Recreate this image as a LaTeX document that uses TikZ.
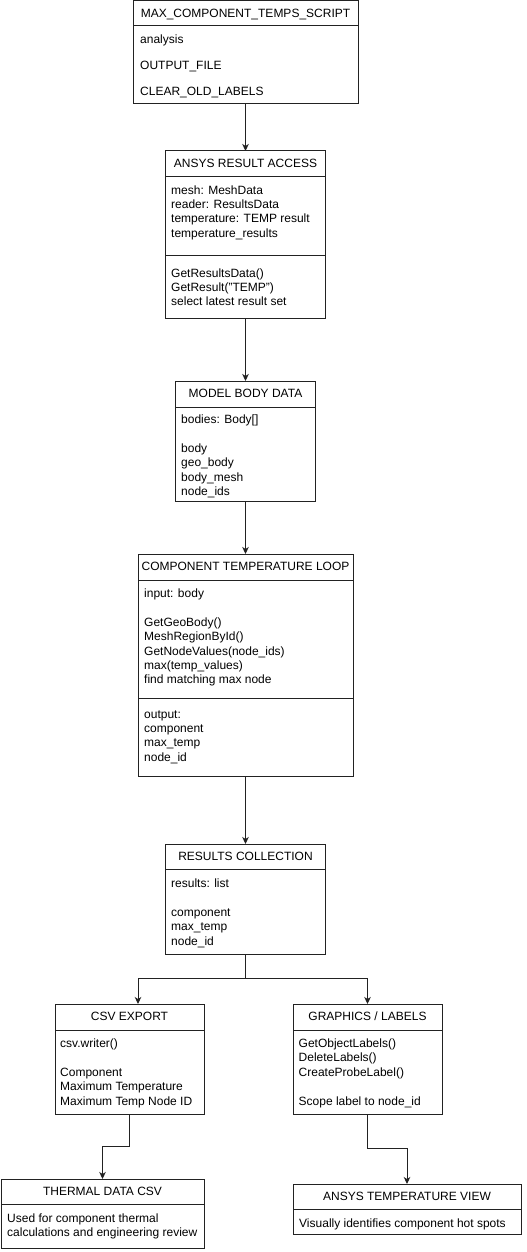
\documentclass[tikz,border=0pt]{standalone}
\usepackage{fontspec}
\setmainfont{Liberation Sans}
\usetikzlibrary{arrows.meta,calc}
\definecolor{stroke}{HTML}{222222}
\tikzset{
  box/.style={draw=stroke, line width=1pt, fill=white, inner sep=0pt, outer sep=0pt, anchor=north west},
  divl/.style={draw=stroke, line width=1pt},
  ttl/.style={anchor=base, inner sep=0pt, font=\fontsize{12}{14.4}\selectfont},
  ln/.style={anchor=base west, inner sep=0pt, font=\fontsize{12}{14.4}\selectfont},
  arr/.style={draw=stroke, line width=1pt, -{Stealth[length=7pt,width=6.5pt,inset=2pt]}},
}
\begin{document}
\begin{tikzpicture}[x=1pt,y=-1pt]
\fill[white] (0,0) rectangle (527,1252);
\useasboundingbox (0,0) rectangle (527,1252);

% Box 1
\node[box, minimum width=225, minimum height=103] (b1) at (133,1) {};
\draw[divl] (b1.west |- 0,26) -- (b1.east |- 0,26);
\node[ttl] (b1t) at (245.5,18) {MAX\_COMPONENT\_TEMPS\_SCRIPT};
\node[ln] (b1a) at (140,44) {analysis};
\node[ln] (b1b) at (140,70) {OUTPUT\_FILE};
\node[ln] (b1c) at (140,95.5) {CLEAR\_OLD\_LABELS};

% Box 2
\node[box, minimum width=160, minimum height=167] (b2) at (165.5,151) {};
\draw[divl] (b2.west |- 0,177) -- (b2.east |- 0,177);
\draw[divl] (b2.west |- 0,255) -- (b2.east |- 0,255);
\node[ttl] (b2t) at (245.5,167.5) {ANSYS RESULT ACCESS};
\node[ln] (b2a) at (171,194) {mesh: MeshData};
\node[ln] (b2b) at (171,208.4) {reader: ResultsData};
\node[ln] (b2c) at (171,222.8) {temperature: TEMP result};
\node[ln] (b2d) at (171,237.2) {temperature\_results};
\node[ln] (b2e) at (171,277) {GetResultsData()};
\node[ln] (b2f) at (171,291.4) {GetResult("TEMP")};
\node[ln] (b2g) at (171,305.8) {select latest result set};

% Box 3
\node[box, minimum width=140, minimum height=120] (b3) at (175.5,381) {};
\draw[divl] (b3.west |- 0,407) -- (b3.east |- 0,407);
\node[ttl] (b3t) at (245.5,397.5) {MODEL BODY DATA};
\node[ln] (b3a) at (181,423.5) {bodies: Body[]};
\node[ln] (b3b) at (181,452.3) {body};
\node[ln] (b3c) at (181,466.7) {geo\_body};
\node[ln] (b3d) at (181,481.1) {body\_mesh};
\node[ln] (b3e) at (181,495.5) {node\_ids};

% Box 4
\node[box, minimum width=215, minimum height=222] (b4) at (138,554) {};
\draw[divl] (b4.west |- 0,580) -- (b4.east |- 0,580);
\draw[divl] (b4.west |- 0,698) -- (b4.east |- 0,698);
\node[ttl] (b4t) at (245.5,570.5) {COMPONENT TEMPERATURE LOOP};
\node[ln] (b4a) at (144,597.5) {input: body};
\node[ln] (b4b) at (144,626.3) {GetGeoBody()};
\node[ln] (b4c) at (144,640.7) {MeshRegionById()};
\node[ln] (b4d) at (144,655.1) {GetNodeValues(node\_ids)};
\node[ln] (b4e) at (144,669.5) {max(temp\_values)};
\node[ln] (b4f) at (144,683.9) {find matching max node};
\node[ln] (b4g) at (144,718) {output:};
\node[ln] (b4h) at (144,732.4) {component};
\node[ln] (b4i) at (144,746.8) {max\_temp};
\node[ln] (b4j) at (144,761.2) {node\_id};

% Results collection
\node[box, minimum width=160, minimum height=110] (rc) at (165.5,844) {};
\draw[divl] (rc.west |- 0,869) -- (rc.east |- 0,869);
\node[ttl] (rct) at (245.5,860.5) {RESULTS COLLECTION};
\node[ln] (rca) at (171,887.5) {results: list};
\node[ln] (rcb) at (171,916.3) {component};
\node[ln] (rcc) at (171,930.7) {max\_temp};
\node[ln] (rcd) at (171,945.1) {node\_id};

% CSV export
\node[box, minimum width=149, minimum height=110] (csv) at (55,1004) {};
\draw[divl] (csv.west |- 0,1030) -- (csv.east |- 0,1030);
\node[ttl] (csvt) at (129.5,1020.5) {CSV EXPORT};
\node[ln] (csva) at (60,1047.5) {csv.writer()};
\node[ln] (csvb) at (60,1076.3) {Component};
\node[ln] (csvc) at (60,1090.7) {Maximum Temperature};
\node[ln] (csvd) at (60,1105.1) {Maximum Temp Node ID};

% Graphics / labels
\node[box, minimum width=149, minimum height=110] (gfx) at (293,1004) {};
\draw[divl] (gfx.west |- 0,1030) -- (gfx.east |- 0,1030);
\node[ttl] (gfxt) at (367.5,1020.5) {GRAPHICS / LABELS};
\node[ln] (gfxa) at (298.5,1047.5) {GetObjectLabels()};
\node[ln] (gfxb) at (298.5,1061.9) {DeleteLabels()};
\node[ln] (gfxc) at (298.5,1076.3) {CreateProbeLabel()};
\node[ln] (gfxd) at (298.5,1105.1) {Scope label to node\_id};

% Thermal data CSV
\node[box, minimum width=203, minimum height=69] (th) at (1,1179) {};
\draw[divl] (th.west |- 0,1204) -- (th.east |- 0,1204);
\node[ttl] (tht) at (102.5,1195.5) {THERMAL DATA CSV};
\node[ln] (tha) at (7,1222.5) {Used for component thermal};
\node[ln] (thb) at (7,1236.9) {calculations and engineering review};

% Ansys temperature view
\node[box, minimum width=228, minimum height=50] (vw) at (293,1184) {};
\draw[divl] (vw.west |- 0,1209) -- (vw.east |- 0,1209);
\node[ttl] (vwt) at (407,1200.5) {ANSYS TEMPERATURE VIEW};
\node[ln] (vwa) at (299,1227.5) {Visually identifies component hot spots};

% Connectors
\draw[arr] (b1.south) -- (b2.north);
\draw[arr] (b2.south) -- (b3.north);
\draw[arr] (b3.south) -- (b4.north);
\draw[arr] (b4.south) -- (rc.north);
\coordinate (split) at ($(rc.south)+(0,24)$);
\draw[draw=stroke, line width=1pt] (rc.south) -- (split);
\draw[arr] (split) -| ($(csv.north)+(8.5,0)$);
\draw[arr] (split) -| (gfx.north);
\draw[arr] (csv.south) -- ++(0,32) -| (th.north);
\draw[arr] (gfx.south) -- ++(0,34) -| (vw.north);
\end{tikzpicture}
\end{document}
